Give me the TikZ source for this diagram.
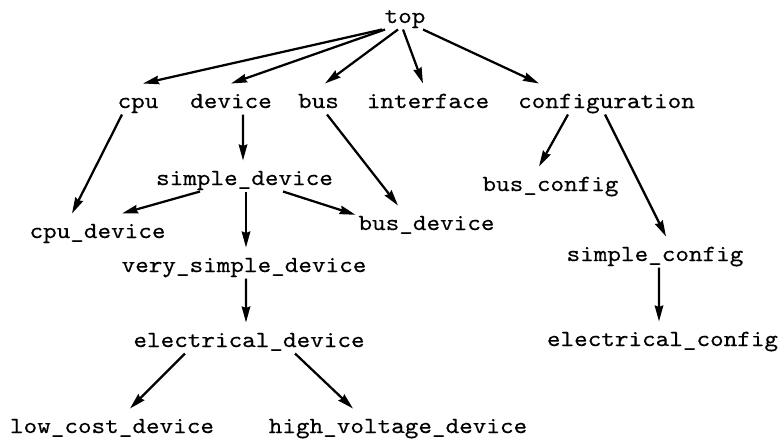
\documentclass[tikz,border=0pt]{standalone}
\usepackage{fontspec}
\setmonofont[FakeStretch=1.12, FakeBold=0.4]{lmmono10-regular.otf}
\usetikzlibrary{arrows.meta}

\tikzset{
  cls/.style={font=\ttfamily\fontsize{9.25}{11}\selectfont, anchor=base,
    text height=9.2pt, text depth=2pt, inner xsep=1pt, inner ysep=0.4pt},
  isa/.style={-{Stealth[length=6.4pt, width=3.4pt, inset=0.6pt]}, line width=0.9pt}
}

\begin{document}
\begin{tikzpicture}[x=0.4pt, y=-0.4pt]

\useasboundingbox (0,0) rectangle (779,441);

\node [cls] (top) at (405,23) {top};

\node [cls] (cpu) at (138,108) {cpu};
\node [cls] (device) at (231,108) {device};
\node [cls] (bus) at (318.5,108) {bus};
\node [cls] (interface) at (428,108) {interface};
\node [cls] (configuration) at (606.5,108) {configuration};

\node [cls] (simple_device) at (244.5,185) {simple\_device};
\node [cls] (cpu_device) at (97.5,238) {cpu\_device};
\node [cls] (bus_device) at (426.5,230) {bus\_device};
\node [cls] (bus_config) at (550.5,191) {bus\_config};
\node [cls] (very_simple_device) at (244,272) {very\_simple\_device};
\node [cls] (simple_config) at (655,261) {simple\_config};
\node [cls] (electrical_device) at (249,347) {electrical\_device};
\node [cls] (electrical_config) at (662.5,346) {electrical\_config};
\node [cls] (low_cost_device) at (112,433) {low\_cost\_device};
\node [cls] (high_voltage_device) at (398,433) {high\_voltage\_device};

\draw [isa] ([xshift=-9.2pt]top.south) -- ([xshift=2pt]cpu.north);
\draw [isa] ([xshift=-8pt]top.south) -- (device.north);
\draw [isa] ([xshift=-2.8pt]top.south) -- ([xshift=2.6pt]bus.north);
\draw [isa] ([xshift=-0.8pt]top.south) -- ([xshift=-2pt]interface.north);
\draw [isa] ([xshift=7.2pt]top.south) -- ([xshift=-27pt]configuration.north);

\draw [isa] ([xshift=-6.4pt]cpu.south) -- ([xshift=-10.2pt]cpu_device.north);
\draw [isa] ([xshift=4.8pt]device.south) -- ([xshift=-0.6pt]simple_device.north);
\draw [isa] ([xshift=3.4pt]bus.south) -- ([xshift=-11.4pt]bus_device.north);
\draw [isa] ([xshift=-15.4pt]configuration.south) -- ([xshift=-4.6pt]bus_config.north);
\draw [isa] ([xshift=-0.6pt]configuration.south) -- ([xshift=4.4pt]simple_config.north);

\draw [isa] ([xshift=-17.8pt]simple_device.south) -- ([xshift=9.8pt]cpu_device.north);
\draw [isa] ([xshift=0.6pt]simple_device.south) -- ([xshift=0.8pt]very_simple_device.north);
\draw [isa] ([xshift=15.4pt]simple_device.south) -- (bus_device.175);
\draw [isa] ([xshift=0.8pt]very_simple_device.south) -- ([xshift=-1.2pt]electrical_device.north);
\draw [isa] ([xshift=1.6pt]simple_config.south) -- ([xshift=-1.4pt]electrical_config.north);

\draw [isa] ([xshift=-25.6pt]electrical_device.south) -- ([xshift=7.2pt]low_cost_device.north);
\draw [isa] ([xshift=18.4pt]electrical_device.south) -- ([xshift=-18pt]high_voltage_device.north);

\end{tikzpicture}
\end{document}
